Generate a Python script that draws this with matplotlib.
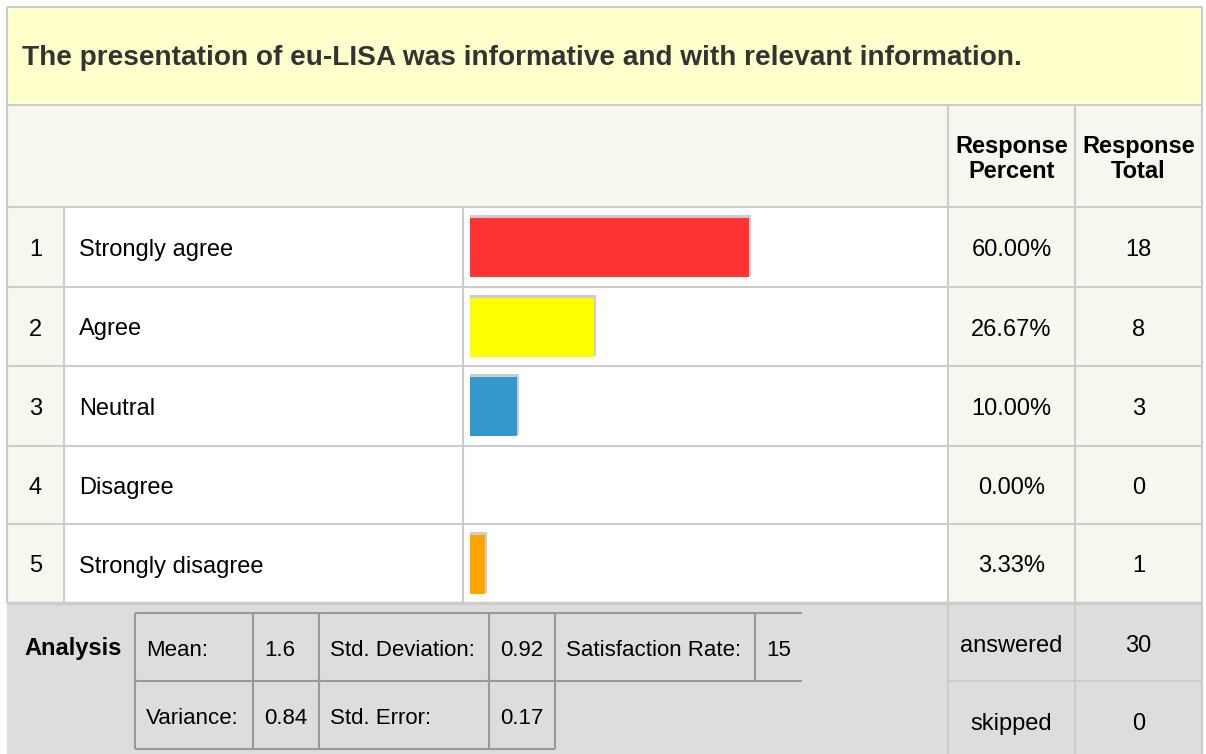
# survey result table: eu-LISA presentation
import matplotlib.pyplot as plt
from matplotlib.patches import Rectangle

plt.rcParams['font.family'] = ['Liberation Sans', 'DejaVu Sans']

title = 'The presentation of eu-LISA was informative and with relevant information.'
labels = ['Strongly agree', 'Agree', 'Neutral', 'Disagree', 'Strongly disagree']
percents = [60.00, 26.67, 10.00, 0.00, 3.33]
totals = [18, 8, 3, 0, 1]
bar_colors = ['#ff3333', '#ffff00', '#3399cc', '#999999', '#ffa500']
stat_names = ['Mean:', 'Std. Deviation:', 'Satisfaction Rate:', 'Variance:', 'Std. Error:']
stat_values = ['1.6', '0.92', '15', '0.84', '0.17']
answered = 30
skipped = 0

W, H = 1206, 754
fig = plt.figure(figsize=(W / 100, H / 100), dpi=100)
ax = fig.add_axes([0, 0, 1, 1])
ax.set_xlim(0, W)
ax.set_ylim(H, 0)
ax.axis('off')

fs = 17
dy = 3  # text nudge down
line_c = '#cccccc'
cream = '#f7f7f0'


def box(x0, y0, x1, y1, fc, ec=None, lw=0, z=1):
    ax.add_patch(Rectangle((x0, y0), x1 - x0, y1 - y0, facecolor=fc,
                           edgecolor=ec if ec else 'none', linewidth=lw, zorder=z))


def hline(y, x0, x1, c=line_c, lw=1.5):
    ax.plot([x0, x1], [y, y], color=c, lw=lw, zorder=3, solid_capstyle='butt')


def vline(x, y0, y1, c=line_c, lw=1.5):
    ax.plot([x, x], [y0, y1], color=c, lw=lw, zorder=3, solid_capstyle='butt')


left, right = 7, 1202
c_num, c_lab, c_bar, c_pct, c_tot = 64, 463, 948, 1075, right
row_edges = [207, 287, 366, 446, 524, 603]

# title band
box(left, 7, right, 105, '#ffffcc')
ax.text(22, 57 + 1, title, fontsize=20.2, fontweight='bold', color='#333333', va='center')

# header row
box(left, 105, right, 207, cream)
ax.text((c_bar + c_pct) / 2, 158 + 1, 'Response\nPercent', fontsize=fs, fontweight='bold',
        ha='center', va='center', linespacing=1.12)
ax.text((c_pct + c_tot) / 2, 158 + 1, 'Response\nTotal', fontsize=fs, fontweight='bold',
        ha='center', va='center', linespacing=1.12)

# body rows
box(left, 207, c_num, 603, cream)
box(c_num, 207, c_bar, 603, 'white')
box(c_bar, 207, right, 603, cream)

centers = [(row_edges[i] + row_edges[i + 1]) / 2 for i in range(len(labels))]
for i, lab in enumerate(labels):
    yc = centers[i] + dy
    ax.text((left + c_num) / 2, yc, str(i + 1), fontsize=fs, ha='center', va='center')
    ax.text(79, yc, lab, fontsize=fs, ha='left', va='center')
    ax.text((c_bar + c_pct) / 2, yc, '%.2f%%' % percents[i], fontsize=fs, ha='center', va='center')
    ax.text((c_pct + c_tot) / 2, yc, str(totals[i]), fontsize=fs, ha='center', va='center')

# bars
px_per_pct = 4.65
widths = [p * px_per_pct for p in percents]
shadow = [w + 2 if w > 0 else 0 for w in widths]
ax.barh([c - 1.5 for c in centers], shadow, left=470, height=61, color='#cccccc', zorder=4)
ax.barh([c + 0.5 for c in centers], widths, left=470, height=59, color=bar_colors, zorder=5)

# grid lines
for y in [105, 207] + row_edges[1:-1]:
    hline(y, left, right)
vline(left, 7, 603)
vline(right, 7, 754)
hline(7, left, right)
vline(c_num, 207, 603)
vline(c_lab, 207, 603)
vline(c_bar, 105, 754)
vline(c_pct, 105, 754)

# analysis area
box(left, 603, c_bar, H, '#dddddd')
box(c_bar, 603, right, H, '#dddddd')
hline(603, left, right, lw=2.5)
vline(c_bar, 603, H)
vline(c_pct, 603, H)
hline(681, c_bar, right)

ax.text(73, 648 + 1, 'Analysis', fontsize=fs, fontweight='bold', ha='center', va='center')
g = '#999999'
hline(613, 135, 802, c=g)
hline(681, 135, 802, c=g)
hline(749, 135, 555, c=g)
for x in [135, 253, 319, 489, 555, 755]:
    vline(x, 613, 681, c=g)
for x in [135, 253, 319, 489, 555]:
    vline(x, 681, 749, c=g)

sfs = 16
r1, r2 = 648 + dy, 716 + dy
ax.text(146, r1, stat_names[0], fontsize=sfs, va='center')
ax.text(264, r1, stat_values[0], fontsize=sfs, va='center')
ax.text(330, r1, stat_names[1], fontsize=sfs, va='center')
ax.text(500, r1, stat_values[1], fontsize=sfs, va='center')
ax.text(566, r1, stat_names[2], fontsize=sfs, va='center')
ax.text(766, r1, stat_values[2], fontsize=sfs, va='center')
ax.text(146, r2, stat_names[3], fontsize=sfs, va='center')
ax.text(264, r2, stat_values[3], fontsize=sfs, va='center')
ax.text(330, r2, stat_names[4], fontsize=sfs, va='center')
ax.text(500, r2, stat_values[4], fontsize=sfs, va='center')

ax.text((c_bar + c_pct) / 2, 643 + dy, 'answered', fontsize=fs, ha='center', va='center')
ax.text((c_pct + c_tot) / 2, 643 + dy, str(answered), fontsize=fs, ha='center', va='center')
ax.text((c_bar + c_pct) / 2, 721 + dy, 'skipped', fontsize=fs, ha='center', va='center')
ax.text((c_pct + c_tot) / 2, 721 + dy, str(skipped), fontsize=fs, ha='center', va='center')

fig.savefig('out.png', dpi=100)
